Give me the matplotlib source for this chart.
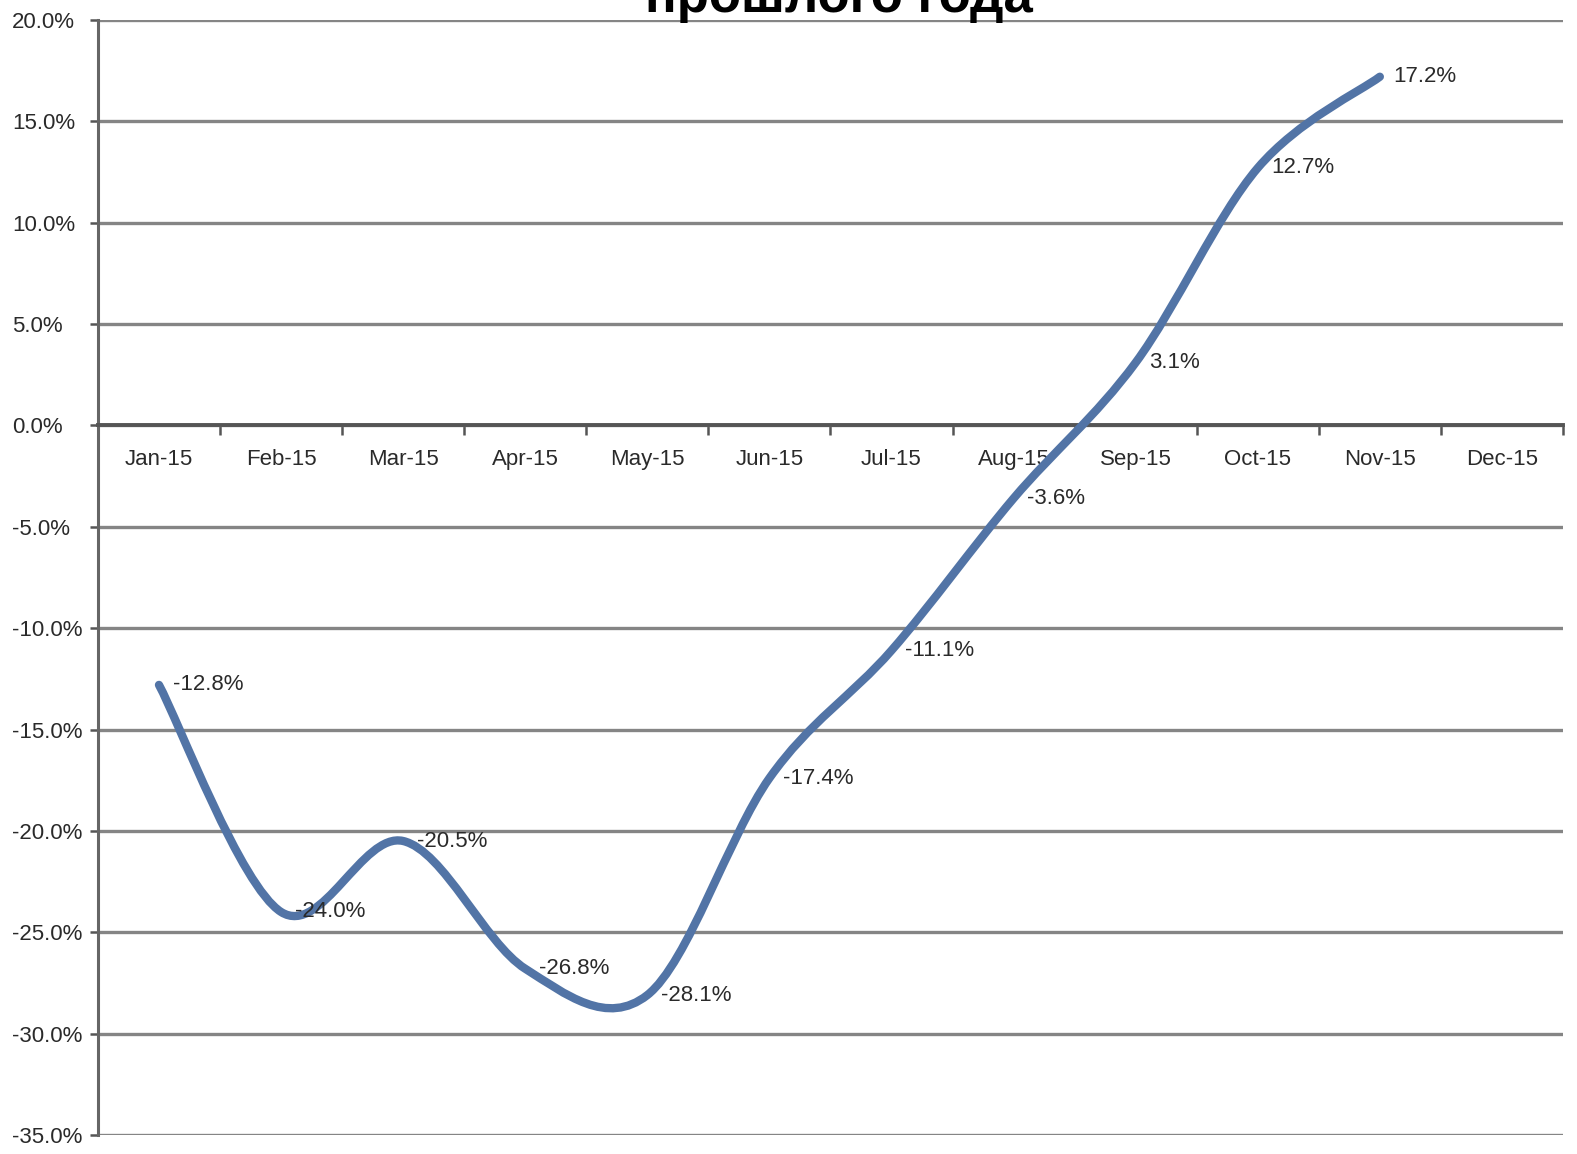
import matplotlib.pyplot as plt
from matplotlib.path import Path
from matplotlib.patches import PathPatch

plt.rcParams['font.family'] = ['Liberation Sans', 'DejaVu Sans']

months = ["Jan-15", "Feb-15", "Mar-15", "Apr-15", "May-15", "Jun-15",
          "Jul-15", "Aug-15", "Sep-15", "Oct-15", "Nov-15", "Dec-15"]
change = [-12.8, -24.0, -20.5, -26.8, -28.1, -17.4, -11.1, -3.6, 3.1, 12.7, 17.2]
yticks = [-35, -30, -25, -20, -15, -10, -5, 0, 5, 10, 15, 20]
title = "прошлого года"

line_col = "#5274A6"
grid_col = "#858585"
text_col = "#2a2a2a"

fig = plt.figure(figsize=(15.77, 11.54), dpi=100)
ax = fig.add_axes([0.0621, 0.0165, 0.9290, 0.9662])

# smoothed line like Excel (cubic bezier through the points)
xs = list(range(len(change)))
verts = [(xs[0], change[0])]
codes = [Path.MOVETO]
n = len(change)
for i in range(n - 1):
    p0 = (xs[max(i - 1, 0)], change[max(i - 1, 0)])
    p1 = (xs[i], change[i])
    p2 = (xs[i + 1], change[i + 1])
    p3 = (xs[min(i + 2, n - 1)], change[min(i + 2, n - 1)])
    c1 = (p1[0] + (p2[0] - p0[0]) / 6, p1[1] + (p2[1] - p0[1]) / 6)
    c2 = (p2[0] - (p3[0] - p1[0]) / 6, p2[1] - (p3[1] - p1[1]) / 6)
    verts += [c1, c2, p2]
    codes += [Path.CURVE4] * 3
ax.add_patch(PathPatch(Path(verts, codes), facecolor="none", edgecolor=line_col,
                       lw=6, capstyle="round", joinstyle="round", zorder=3))

for x, v in zip(xs, change):
    ax.annotate(f"{v:.1f}%", (x, v), xytext=(10, 0), textcoords="offset points",
                va="center", ha="left", fontsize=16, color=text_col, zorder=4)

ax.set_xlim(-0.5, len(months) - 0.5)
ax.set_ylim(-35, 20)
ax.set_yticks(yticks)
ax.set_yticklabels([f"{v:.1f}%" for v in yticks], ha="left")
ax.yaxis.grid(True, color=grid_col, lw=2.4)
ax.set_axisbelow(True)

ax.set_xticks([i - 0.5 for i in range(len(months) + 1)], minor=True)
ax.set_xticks(list(range(len(months))))
ax.set_xticklabels(months)
ax.tick_params(axis="x", which="major", length=0, pad=17, labelsize=16, labelcolor=text_col)
ax.tick_params(axis="x", which="minor", length=7, width=1.8, color="#555555", direction="out")
ax.tick_params(axis="y", length=6, width=1.8, color="#555555", pad=56,
               labelsize=16, labelcolor=text_col)

ax.spines["bottom"].set_position(("data", 0))
ax.spines["bottom"].set_color("#555555")
ax.spines["bottom"].set_linewidth(2.8)
ax.spines["left"].set_color("#666666")
ax.spines["left"].set_linewidth(2.2)
ax.spines["top"].set_visible(False)
ax.spines["right"].set_visible(False)

fig.text(0.532, 1 - 12 / 1154, title, ha="center", va="baseline",
         fontsize=38, fontweight="bold", color="black")

fig.savefig("out.png", dpi=100)
